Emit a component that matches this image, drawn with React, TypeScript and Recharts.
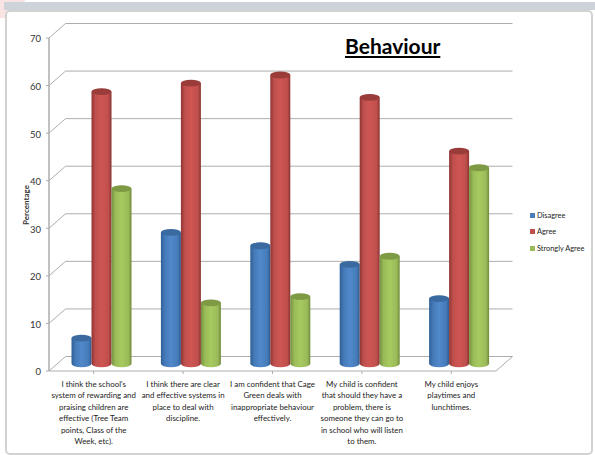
import { BarChart, Bar, XAxis, YAxis, CartesianGrid, Legend } from "recharts";

const categories = ["q1", "q2", "q3", "q4", "q5"];

const wrappedLabels = [
  ["I think the school's", "system of rewarding and", "praising children are", "effective (Tree Team", "points, Class of the", "Week, etc)."],
  ["I think there are clear", "and effective systems in", "place to deal with", "discipline."],
  ["I am confident that Cage", "Green deals with", "inappropriate behaviour", "effectively."],
  ["My child is confident", "that should they have a", "problem, there is", "someone they can go to", "in school who will listen", "to them."],
  ["My child enjoys", "playtimes and", "lunchtimes."],
];

const disagree = [5.4, 27.6, 24.8, 20.9, 13.7];
const agree = [57.2, 59, 60.7, 56, 44.7];
const stronglyAgree = [36.8, 12.8, 14.1, 22.6, 41.2];

const yTicks = [0, 10, 20, 30, 40, 50, 60, 70];

const data = categories.map((c, i) => ({
  name: c,
  disagree: disagree[i],
  agree: agree[i],
  stronglyAgree: stronglyAgree[i],
}));

const FONT = "Lato, 'Open Sans', sans-serif";
const GRID = "#adadad";

// how far the back wall sits behind the axes
const DEPTH_X = 16.5;
const DEPTH_Y = 14.5;

function Cylinder(props: any) {
  const { x, y, width, height, id, top } = props;
  const cx = x + width / 2 + 7.5;
  const dy = -DEPTH_Y / 2;
  const rx = width / 2;
  const ry = 3.4;
  const yTop = y + dy;
  const yBottom = y + height + dy;
  return (
    <g>
      <path
        d={`M${cx - rx},${yTop} L${cx - rx},${yBottom} A${rx},${ry} 0 0 0 ${cx + rx},${yBottom} L${cx + rx},${yTop} Z`}
        fill={`url(#${id})`}
      />
      <ellipse cx={cx} cy={yTop} rx={rx} ry={ry} fill={top} />
    </g>
  );
}

function GridLine(props: any) {
  const { x1, x2, y1, index } = props;
  return (
    <g>
      <line x1={x1 + DEPTH_X} x2={x2 + DEPTH_X} y1={y1 - DEPTH_Y} y2={y1 - DEPTH_Y} stroke={GRID} strokeWidth={1} />
      <line x1={x1} x2={x1 + DEPTH_X} y1={y1} y2={y1 - DEPTH_Y} stroke={GRID} strokeWidth={1} />
      {index === 0 || y1 > 360 ? (
        <line x1={x2} x2={x2 + DEPTH_X} y1={y1} y2={y1 - DEPTH_Y} stroke={GRID} strokeWidth={1} />
      ) : null}
    </g>
  );
}

function CategoryTick(props: any) {
  const { x, y, index } = props;
  const lines = wrappedLabels[index] || [];
  return (
    <text x={x} y={y + 11} textAnchor="middle" fontFamily={FONT} fontSize={7.9} fill="#222">
      {lines.map((l, i) => (
        <tspan key={i} x={x} dy={i === 0 ? 0 : 11.4}>
          {l}
        </tspan>
      ))}
    </text>
  );
}

function LegendBox() {
  const items = [
    ["Disagree", "#4a7ebb"],
    ["Agree", "#c0504d"],
    ["Strongly Agree", "#9bbb59"],
  ];
  return (
    <div style={{ fontFamily: FONT, fontSize: 7.4, color: "#222" }}>
      {items.map(([label, color]) => (
        <div key={label} style={{ height: 16.6, display: "flex", alignItems: "center" }}>
          <span style={{ width: 5, height: 5, background: color, marginRight: 2 }} />
          {label}
        </div>
      ))}
    </div>
  );
}

export default function App() {
  return (
    <div style={{ position: "absolute", left: 0, top: 0, width: 595, height: 455, background: "#fff", overflow: "hidden" }}>
      <div style={{ position: "absolute", left: 0, top: 0, width: 26, height: 18, background: "#f9e3e3", clipPath: "polygon(0 0, 100% 0, 20% 100%, 0 100%)" }} />
      <div style={{ position: "absolute", left: 4, top: 2, width: 591, height: 8, background: "#ced3da" }} />
      <div
        style={{
          position: "absolute",
          left: 5,
          top: 10,
          width: 584,
          height: 441,
          border: "2px solid #d2d2d2",
          borderRadius: 5,
          background: "#fff",
        }}
      />
      <div
        style={{
          position: "absolute",
          left: 345,
          top: 33,
          fontFamily: FONT,
          fontSize: 21,
          fontWeight: 700,
          textDecoration: "underline",
          color: "#000",
        }}
      >
        Behaviour
      </div>
      <div
        style={{
          position: "absolute",
          left: 26,
          top: 205,
          fontFamily: FONT,
          fontSize: 8,
          fontWeight: 700,
          color: "#333",
          transform: "translate(-50%, -50%) rotate(-90deg)",
        }}
      >
        Percentage
      </div>
      <div style={{ position: "absolute", left: 0, top: 0 }}>
        <BarChart
          width={595}
          height={455}
          data={data}
          barSize={20}
          barGap={0}
          margin={{ top: 38, right: 29, left: 9, bottom: 14 }}
        >
          <defs>
            <linearGradient id="blueBar" x1="0" x2="1" y1="0" y2="0">
              <stop offset="0" stopColor="#2f5f96" />
              <stop offset="0.2" stopColor="#457ab8" />
              <stop offset="0.5" stopColor="#5189cb" />
              <stop offset="0.85" stopColor="#467bb9" />
              <stop offset="1" stopColor="#2c5a8f" />
            </linearGradient>
            <linearGradient id="redBar" x1="0" x2="1" y1="0" y2="0">
              <stop offset="0" stopColor="#8f3533" />
              <stop offset="0.2" stopColor="#bf504d" />
              <stop offset="0.5" stopColor="#cf5653" />
              <stop offset="0.85" stopColor="#bf4f4c" />
              <stop offset="1" stopColor="#883331" />
            </linearGradient>
            <linearGradient id="greenBar" x1="0" x2="1" y1="0" y2="0">
              <stop offset="0" stopColor="#75913f" />
              <stop offset="0.2" stopColor="#9abb58" />
              <stop offset="0.5" stopColor="#a7ca60" />
              <stop offset="0.85" stopColor="#9aba58" />
              <stop offset="1" stopColor="#6f8a3b" />
            </linearGradient>
          </defs>
          <CartesianGrid vertical={false} horizontal={(p: any) => <GridLine key={p.key} {...p} />} />
          <XAxis
            dataKey="name"
            height={70}
            interval={0}
            tick={<CategoryTick />}
            tickLine={{ stroke: GRID }}
            axisLine={{ stroke: GRID }}
            tickSize={3}
          />
          <YAxis
            width={40}
            domain={[0, 70]}
            ticks={yTicks}
            tick={{ fontSize: 9.5, fontFamily: FONT, fill: "#333", dy: 1 }}
            tickLine={{ stroke: GRID }}
            axisLine={{ stroke: GRID, strokeWidth: 1.5 }}
            tickSize={3}
            tickMargin={5}
          />
          <Legend
            layout="vertical"
            align="right"
            verticalAlign="middle"
            width={70}
            content={<LegendBox />}
            wrapperStyle={{ left: 530, right: "auto", top: 207 }}
          />
          <Bar dataKey="disagree" isAnimationActive={false} shape={(p: any) => <Cylinder {...p} id="blueBar" top="#3a6a9f" />} />
          <Bar dataKey="agree" isAnimationActive={false} shape={(p: any) => <Cylinder {...p} id="redBar" top="#9a3c3a" />} />
          <Bar dataKey="stronglyAgree" isAnimationActive={false} shape={(p: any) => <Cylinder {...p} id="greenBar" top="#7f9a45" />} />
        </BarChart>
      </div>
    </div>
  );
}
